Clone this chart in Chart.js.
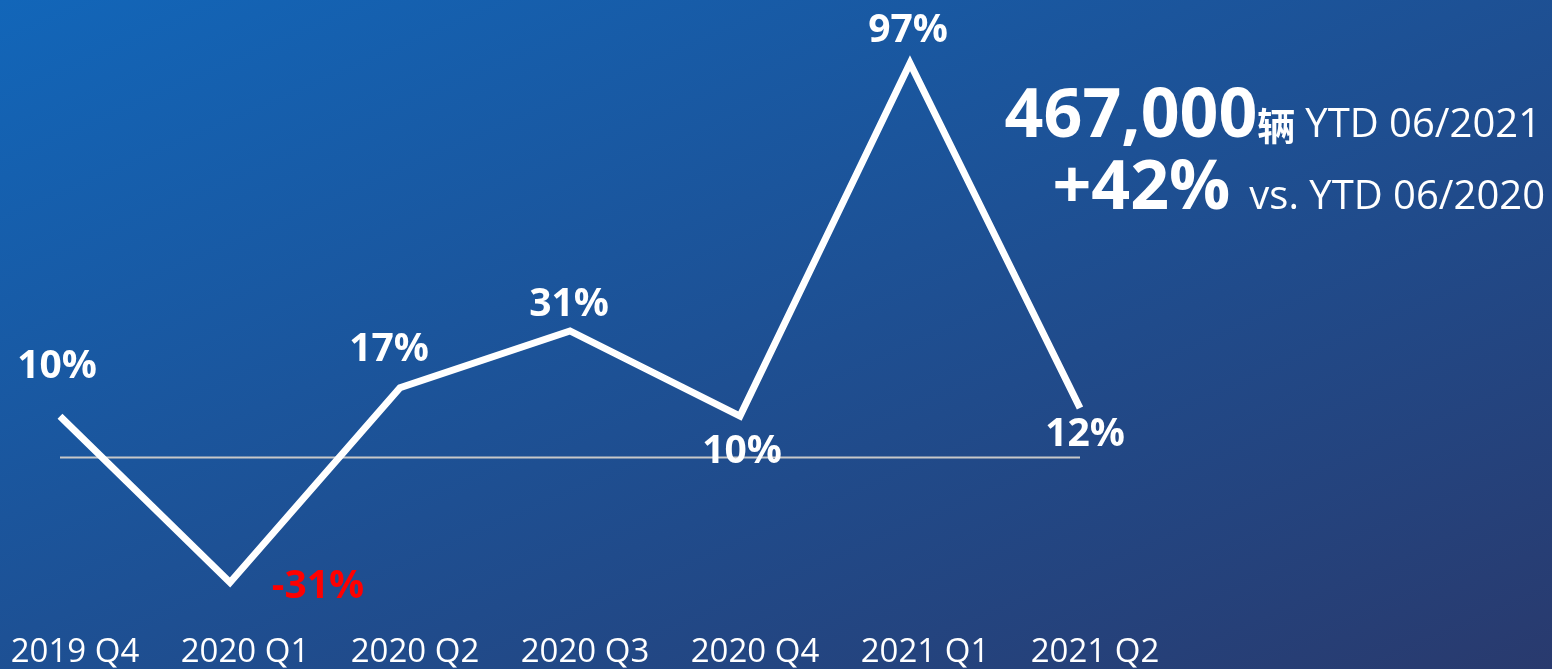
<!DOCTYPE html>
<html>
<head>
<meta charset="utf-8">
<script src="https://cdn.jsdelivr.net/npm/chart.js@4/dist/chart.umd.min.js"></script>
<style>
  html, body { margin: 0; padding: 0; }
  #wrap {
    width: 1552px; height: 669px; position: relative;
    background: linear-gradient(to bottom right, #1266b9, #293a6e);
  }
</style>
</head>
<body>
<div id="wrap"><canvas id="growthChart"></canvas></div>
<script>
const quarters = ["2019 Q4", "2020 Q1", "2020 Q2", "2020 Q3", "2020 Q4", "2021 Q1", "2021 Q2"];
const growth = [10, -31, 17, 31, 10, 97, 12];

const totalUnits = "467,000";
const unitWord = "辆";
const totalPeriod = "YTD 06/2021";
const yoyChange = "+42%";
const yoyPeriod = "vs. YTD 06/2020";

// label placement around each point, [dx, dy] in px
const labelShift = [[-3, -49], [88, 4], [-11, -38], [-1, -26], [2, 36], [-2, -32], [5, 27]];

const FONT = "'Open Sans', 'Noto Sans', sans-serif";

const zeroLine = {
  id: "zeroLine",
  beforeDatasetsDraw(chart) {
    const { ctx, chartArea, scales } = chart;
    const y = Math.round(scales.y.getPixelForValue(0)) + 0.5;
    ctx.save();
    ctx.strokeStyle = "#c8c8c8";
    ctx.lineWidth = 2;
    ctx.beginPath();
    ctx.moveTo(chartArea.left, y);
    ctx.lineTo(chartArea.right, y);
    ctx.stroke();
    ctx.restore();
  }
};

const pointLabels = {
  id: "pointLabels",
  afterDatasetsDraw(chart) {
    const ctx = chart.ctx;
    const meta = chart.getDatasetMeta(0);
    ctx.save();
    ctx.font = "bold 39px " + FONT;
    ctx.textAlign = "center";
    ctx.textBaseline = "middle";
    meta.data.forEach((pt, i) => {
      const v = growth[i];
      ctx.fillStyle = v < 0 ? "#ff0000" : "#ffffff";
      ctx.fillText(v + "%", pt.x + labelShift[i][0], pt.y + labelShift[i][1]);
    });
    ctx.restore();
  }
};

const summary = {
  id: "summary",
  afterDraw(chart) {
    const ctx = chart.ctx;
    const right = 1541;
    ctx.save();
    ctx.fillStyle = "#ffffff";
    ctx.textBaseline = "alphabetic";
    ctx.textAlign = "left";

    // line 1
    const f1 = "bold 68px " + FONT, f2 = "bold 38px 'Noto Sans CJK SC', sans-serif", f3 = "40px " + FONT;
    ctx.font = f1; const w1 = ctx.measureText(totalUnits).width;
    ctx.font = f2; const w2 = ctx.measureText(unitWord).width;
    ctx.font = f3; const w3 = ctx.measureText(totalPeriod).width;
    let x = right - (w1 + w2 + 10 + w3);
    const b1 = 137;
    ctx.font = f1; ctx.fillText(totalUnits, x, b1); x += w1;
    ctx.font = f2; ctx.fillText(unitWord, x, b1 + 3); x += w2 + 10;
    ctx.font = f3; ctx.fillText(totalPeriod, x, b1);

    // line 2
    const g1 = "bold 68px " + FONT;
    ctx.font = g1; const v1 = ctx.measureText(yoyChange).width;
    ctx.font = f3; const v2 = ctx.measureText(yoyPeriod).width;
    x = right + 4 - (v1 + 19 + v2);
    const b2 = 209;
    ctx.font = g1; ctx.fillText(yoyChange, x, b2); x += v1 + 19;
    ctx.font = f3; ctx.fillText(yoyPeriod, x, b2);
    ctx.restore();
  }
};

new Chart(document.getElementById("growthChart"), {
  type: "line",
  data: {
    labels: quarters,
    datasets: [{
      data: growth,
      borderColor: "#ffffff",
      borderWidth: 7,
      borderJoinStyle: "miter",
      borderCapStyle: "butt",
      pointRadius: 0,
      tension: 0,
      fill: false
    }]
  },
  options: {
    responsive: true,
    maintainAspectRatio: false,
    animation: false,
    events: [],
    layout: { padding: { left: 60, right: 472, top: 51, bottom: 0 } },
    plugins: { legend: { display: false }, tooltip: { enabled: false } },
    scales: {
      x: {
        offset: false,
        grid: { display: false, drawTicks: false },
        border: { display: false },
        ticks: {
          color: "#ffffff",
          font: { family: FONT, size: 33 },
          padding: 14,
          labelOffset: 15,
          autoSkip: false,
          maxRotation: 0
        },
        afterFit(scale) {
          scale.paddingLeft = 0;
          scale.paddingRight = 0;
          scale.height = 50;
        }
      },
      y: {
        display: false,
        min: -40,
        max: 100
      }
    }
  },
  plugins: [zeroLine, pointLabels, summary]
});
</script>
</body>
</html>
